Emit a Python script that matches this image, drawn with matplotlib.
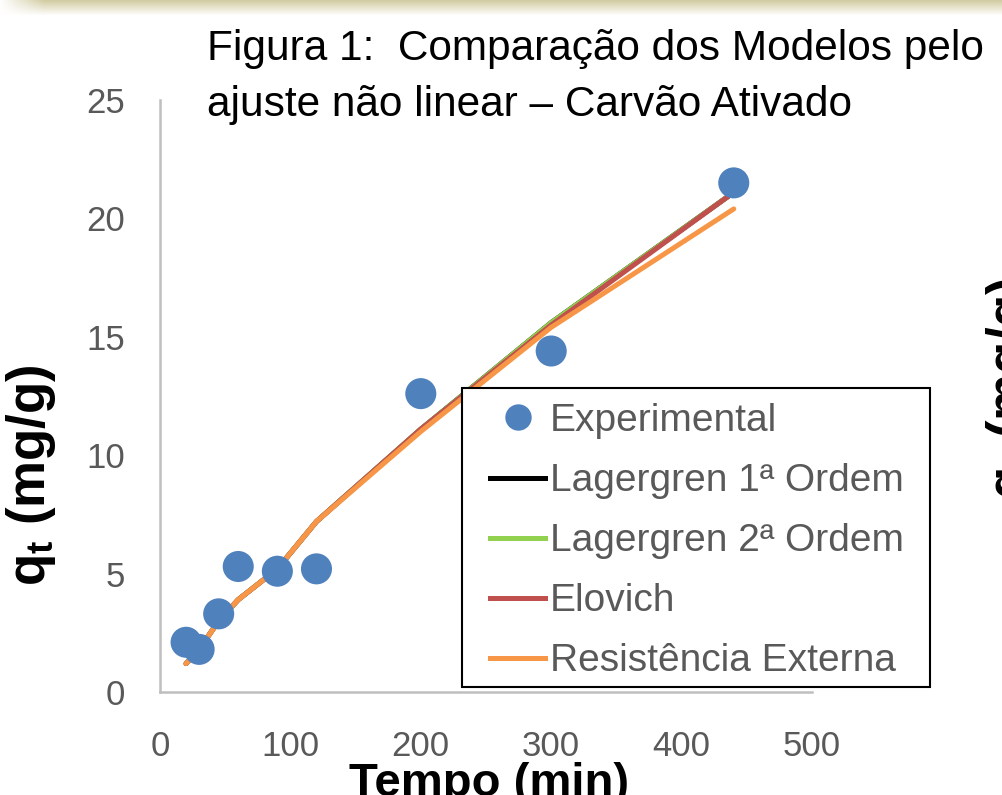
import matplotlib
matplotlib.use("Agg")
import matplotlib.pyplot as plt
import numpy as np
from matplotlib.lines import Line2D
from matplotlib.patches import Rectangle

# data
tempo_exp = [20, 30, 45, 60, 90, 120, 200, 300, 440]
qt_exp = [2.1, 1.8, 3.3, 5.3, 5.1, 5.2, 12.6, 14.4, 21.5]

tempo_mod = [20, 30, 45, 60, 90, 120, 200, 300, 440]
qt_lag1 = [1.2, 1.8, 3.0, 3.9, 5.2, 7.2, 11.1, 15.6, 21.1]
qt_lag2 = [1.2, 1.8, 3.0, 3.9, 5.2, 7.2, 11.1, 15.6, 21.1]
qt_elovich = [1.2, 1.8, 3.0, 3.9, 5.2, 7.2, 11.1, 15.5, 21.1]
qt_resext = [1.2, 1.8, 3.0, 3.9, 5.2, 7.2, 11.0, 15.4, 20.4]

x_ticks = [0, 100, 200, 300, 400, 500]
y_ticks = [0, 5, 10, 15, 20, 25]

FONT = "Liberation Sans"
plt.rcParams["font.family"] = [FONT, "DejaVu Sans"]
plt.rcParams["mathtext.fontset"] = "custom"
plt.rcParams["mathtext.rm"] = FONT
plt.rcParams["mathtext.bf"] = FONT + ":bold"

GREY = "#595959"
W, H = 1003, 795

fig = plt.figure(figsize=(W / 100, H / 100), dpi=100)

# slide shadow band at the top
band = fig.add_axes([0, 1 - 16 / H, 1, 16 / H])
grad = np.linspace(0, 1, 16)[:, None] * np.ones((1, 200))
band.imshow(grad, aspect="auto", cmap=matplotlib.colors.LinearSegmentedColormap.from_list(
    "b", ["#d2cca2", "#ffffff"]), extent=[0, 1, 0, 1], origin="upper")
band.axis("off")
cover = fig.add_axes([0, 1 - 16 / H, 0.045, 16 / H])
cover.imshow(np.linspace(0, 1, 50)[None, :], aspect="auto", extent=[0, 1, 0, 1],
             cmap=matplotlib.colors.LinearSegmentedColormap.from_list(
                 "c", [(1, 1, 1, 1), (1, 1, 1, 0)]))
cover.axis("off")

ax = fig.add_axes([160 / W, 1 - 692 / H, 652 / W, 592 / H])

ax.plot(tempo_mod, qt_lag1, color="black", lw=3.6, solid_capstyle="round", zorder=2)
ax.plot(tempo_mod, qt_lag2, color="#92D050", lw=3.6, solid_capstyle="round", zorder=2)
ax.plot(tempo_mod, qt_elovich, color="#C0504D", lw=3.6, solid_capstyle="round", zorder=3)
ax.plot(tempo_mod, qt_resext, color="#F79646", lw=3.6, solid_capstyle="round", zorder=4)
ax.scatter(tempo_exp, qt_exp, s=500, color="#4F81BD", edgecolors="none", zorder=5)

ax.set_xlim(0, 500)
ax.set_ylim(0, 25)
ax.set_xticks(x_ticks)
ax.set_yticks(y_ticks)
ax.tick_params(length=0, labelsize=25, labelcolor=GREY)
ax.tick_params(axis="x", pad=27)
ax.tick_params(axis="y", pad=25)
for s in ["top", "right"]:
    ax.spines[s].set_visible(False)
for s in ["left", "bottom"]:
    ax.spines[s].set_color("#BFBFBF")
    ax.spines[s].set_linewidth(1.8)

fig.text(489 / W, 1 - 784 / H, "Tempo (min)", ha="center", va="center",
         fontsize=34, fontweight="bold")
fig.text(31 / W, 1 - 475 / H, r"$\mathbf{q_t}$ (mg/g)", rotation=90,
         ha="center", va="center", fontsize=38, fontweight="bold")
# cut-off label of the neighbouring chart
fig.text(984 / W, 1 - 388 / H, r"$\mathbf{q_t}$ (mg/g)", rotation=90,
         ha="left", va="center", fontsize=38, fontweight="bold")

fig.text(207 / W, 1 - 49 / H, "Figura 1:  Comparação dos Modelos pelo",
         ha="left", va="center", fontsize=30.5)
fig.text(207 / W, 1 - 105 / H, "ajuste não linear – Carvão Ativado",
         ha="left", va="center", fontsize=30.5)

# legend frame
ax.add_patch(Rectangle((462 / W, 1 - 687 / H), 468 / W, 299 / H, transform=fig.transFigure,
                       facecolor="white", edgecolor="black", lw=1.5, zorder=6,
                       clip_on=False))
handles = [
    Line2D([], [], ls="none", marker="o", ms=19, color="#4F81BD", mec="none"),
    Line2D([], [], color="black", lw=3.6),
    Line2D([], [], color="#92D050", lw=3.6),
    Line2D([], [], color="#C0504D", lw=3.6),
    Line2D([], [], color="#F79646", lw=3.6),
]
labels = ["Experimental", "Lagergren 1ª Ordem", "Lagergren 2ª Ordem", "Elovich",
          "Resistência Externa"]
leg = ax.legend(handles, labels, loc="upper left",
                bbox_to_anchor=(490 / W, 1 - 403 / H), bbox_transform=fig.transFigure,
                fontsize=28, labelcolor=GREY, frameon=False,
                handlelength=1.42, handletextpad=0.12, labelspacing=0.62, borderpad=0,
                borderaxespad=0)
leg.set_zorder(7)

fig.savefig("out.png", dpi=100)
